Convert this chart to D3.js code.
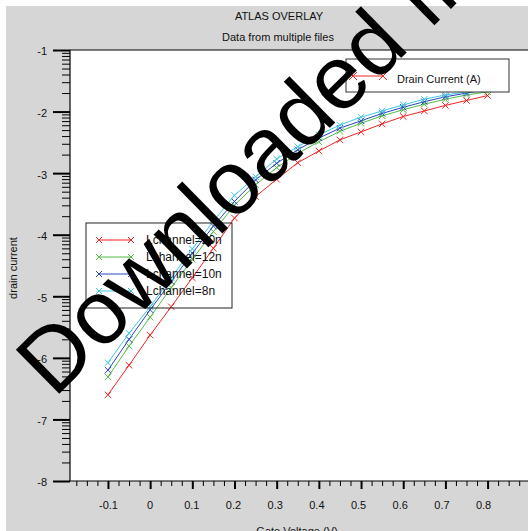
<!DOCTYPE html>
<html><head><meta charset="utf-8">
<script src="https://cdn.jsdelivr.net/npm/d3@7"></script>
<style>
body{margin:0;background:#fff}
svg{display:block}
text{font-family:"Liberation Sans",Arial,sans-serif;}
</style>
</head><body>
<svg id="chart" width="528" height="531"></svg>
<script>
// ---------- data ----------
const gateVoltage = [-0.1,-0.05,0,0.05,0.1,0.15,0.2,0.25,0.3,0.35,0.4,0.45,0.5,0.55,0.6,0.65,0.7,0.75,0.8];
const seriesNames = ["Lchannel=20n","Lchannel=12n","Lchannel=10n","Lchannel=8n"];
// log10 of drain current (A)
const logId20n = [-6.60,-6.12,-5.63,-5.17,-4.70,-4.22,-3.73,-3.38,-3.10,-2.83,-2.64,-2.46,-2.33,-2.20,-2.08,-1.99,-1.90,-1.82,-1.74];
const logId12n = [-6.31,-5.81,-5.34,-4.86,-4.40,-3.95,-3.52,-3.19,-2.91,-2.68,-2.49,-2.32,-2.19,-2.07,-1.97,-1.88,-1.80,-1.73,-1.68];
const logId10n = [-6.20,-5.70,-5.22,-4.76,-4.30,-3.86,-3.46,-3.11,-2.84,-2.62,-2.43,-2.27,-2.15,-2.03,-1.93,-1.84,-1.76,-1.70,-1.64];
const logId8n  = [-6.08,-5.60,-5.17,-4.70,-4.23,-3.78,-3.36,-3.06,-2.77,-2.57,-2.38,-2.22,-2.09,-1.99,-1.89,-1.80,-1.73,-1.68,-1.60];
const seriesColors = ["#f02424","#52bc46","#2a46bc","#3ec6e4"];
const xTickValues = [-0.1,0,0.1,0.2,0.3,0.4,0.5,0.6,0.7,0.8];
const xTickLabels = ["-0.1","0","0.1","0.2","0.3","0.4","0.5","0.6","0.7","0.8"];
const yTickValues = [-8,-7,-6,-5,-4,-3,-2,-1];
const yTickLabels = ["-8","-7","-6","-5","-4","-3","-2","-1"];
const titleText = "ATLAS OVERLAY";
const subtitleText = "Data from multiple files";
const xAxisTitle = "Gate Voltage (V)";
const yAxisTitle = "drain current";
const topLegendText = "Drain Current (A)";
const watermarkText = "Downloaded from";

// ---------- layout ----------
const W = 528, H = 531;
const L = 70, T = 50, B = 481;
const svg = d3.select("#chart");

const x = d3.scaleLinear().domain([-0.19, 0.95]).range([L, L + 1.14 * 421.8]);
const y = d3.scaleLinear().domain([-8, -1]).range([B, T]);

// background
svg.append("rect").attr("x",0).attr("y",0).attr("width",W).attr("height",H).attr("fill","#fff");
svg.append("rect").attr("x",6).attr("y",6).attr("width",W-6).attr("height",H-6).attr("fill","#d6d6d6");
svg.append("rect").attr("x",L).attr("y",T).attr("width",W-L).attr("height",B-T).attr("fill","#fff");

svg.append("defs").append("clipPath").attr("id","clip")
  .append("rect").attr("x",L).attr("y",T).attr("width",W-L).attr("height",B-T);

// titles
svg.append("text").attr("x",279).attr("y",20).attr("text-anchor","middle").attr("font-size",11).attr("fill","#111").text(titleText);
svg.append("text").attr("x",278).attr("y",41).attr("text-anchor","middle").attr("font-size",11).attr("fill","#111").text(subtitleText);
svg.append("text").attr("transform","translate(17,268) rotate(-90)").attr("text-anchor","middle").attr("font-size",11).attr("fill","#111").text(yAxisTitle);
svg.append("text").attr("x",297).attr("y",535).attr("text-anchor","middle").attr("font-size",11).attr("fill","#111").text(xAxisTitle);

// y axis minor ticks (log decades)
const yMinor = [];
for (let d = -8; d < -1; d++) for (let k = 2; k <= 9; k++) yMinor.push(d + Math.log10(k));
const gyMinor = svg.append("g").attr("transform",`translate(${L},0)`)
  .call(d3.axisLeft(y).tickValues(yMinor).tickSize(8).tickFormat(""));
gyMinor.select(".domain").remove();
gyMinor.selectAll("line").attr("stroke","#000").attr("stroke-width",1);

const gy = svg.append("g").attr("transform",`translate(${L},0)`)
  .call(d3.axisLeft(y).tickValues(yTickValues).tickSize(17).tickPadding(6)
    .tickFormat((d,i) => yTickLabels[i]));
gy.select(".domain").remove();
gy.selectAll("line").attr("stroke","#000").attr("stroke-width",2);
gy.selectAll("text").attr("font-family","Liberation Sans, Arial, sans-serif").attr("font-size",11).attr("fill","#111").attr("dy","0.45em");

// x axis minor ticks
const xMinor = d3.range(-7, 37).map(i => i * 0.025).filter(v => Math.abs(Math.round(v*40)%4) !== 0);
const gxMinor = svg.append("g").attr("transform",`translate(0,${B})`)
  .call(d3.axisBottom(x).tickValues(xMinor).tickSize(5).tickFormat(""));
gxMinor.select(".domain").remove();
gxMinor.selectAll("line").attr("stroke","#000").attr("stroke-width",1);

const gx = svg.append("g").attr("transform",`translate(0,${B})`)
  .call(d3.axisBottom(x).tickValues(xTickValues).tickSize(8)
    .tickFormat((d,i) => xTickLabels[i]));
gx.select(".domain").remove();
gx.selectAll("line").attr("stroke","#000").attr("stroke-width",2);
gx.selectAll("text").attr("font-family","Liberation Sans, Arial, sans-serif").attr("font-size",11).attr("fill","#111")
  .attr("y",28).attr("dy",0).attr("dx",(d,i) => -0.5 * i);

// frame lines
svg.append("line").attr("x1",L).attr("x2",W).attr("y1",T).attr("y2",T).attr("stroke","#000").attr("stroke-width",1.2);
svg.append("line").attr("x1",L).attr("x2",L).attr("y1",T).attr("y2",B).attr("stroke","#000").attr("stroke-width",1.2);
svg.append("line").attr("x1",L).attr("x2",W).attr("y1",B).attr("y2",B).attr("stroke","#000").attr("stroke-width",1.2);

// curves
const allSeries = [logId20n, logId12n, logId10n, logId8n];
const plot = svg.append("g").attr("clip-path","url(#clip)");
const line = d3.line().x((d,i) => x(gateVoltage[i])).y(d => y(d));
const xMark = s => `M${-s},${-s}L${s},${s}M${-s},${s}L${s},${-s}`;
allSeries.forEach((vals, si) => {
  const g = plot.append("g");
  g.append("path").datum(vals).attr("d", line).attr("fill","none")
    .attr("stroke", seriesColors[si]).attr("stroke-width",1);
  g.selectAll("path.m").data(vals).join("path").attr("class","m")
    .attr("transform",(d,i) => `translate(${x(gateVoltage[i])},${y(d)})`)
    .attr("d", xMark(3.2)).attr("stroke", seriesColors[si]).attr("stroke-width",1).attr("fill","none");
});

// top legend
const lg1 = svg.append("g");
lg1.append("rect").attr("x",346).attr("y",59).attr("width",163).attr("height",33)
  .attr("fill","#fff").attr("stroke","#333").attr("stroke-width",1);
lg1.append("line").attr("x1",353).attr("x2",383).attr("y1",76).attr("y2",76).attr("stroke",seriesColors[0]);
[353,383].forEach(px => lg1.append("path").attr("transform",`translate(${px},76)`).attr("d",xMark(4)).attr("stroke",seriesColors[0]).attr("fill","none"));
lg1.append("text").attr("x",397).attr("y",83).attr("font-size",11).attr("fill","#111").text(topLegendText);

// series legend
const lg2 = svg.append("g");
lg2.append("rect").attr("x",86).attr("y",223).attr("width",146).attr("height",85)
  .attr("fill","none").attr("stroke","#222").attr("stroke-width",1);
seriesNames.forEach((nm, i) => {
  const yy = 240 + i * 17;
  lg2.append("line").attr("x1",99).attr("x2",131).attr("y1",yy).attr("y2",yy).attr("stroke",seriesColors[i]);
  [99,131].forEach(px => lg2.append("path").attr("transform",`translate(${px},${yy})`).attr("d",xMark(3)).attr("stroke",seriesColors[i]).attr("fill","none"));
  lg2.append("text").attr("x",146).attr("y",yy+4).attr("font-size",12).attr("fill","#111").text(nm);
});

// watermark
svg.append("text").attr("transform","translate(54,399) rotate(-44.5)")
  .attr("font-size",90).attr("fill","#000").text(watermarkText);
</script>
</body></html>
